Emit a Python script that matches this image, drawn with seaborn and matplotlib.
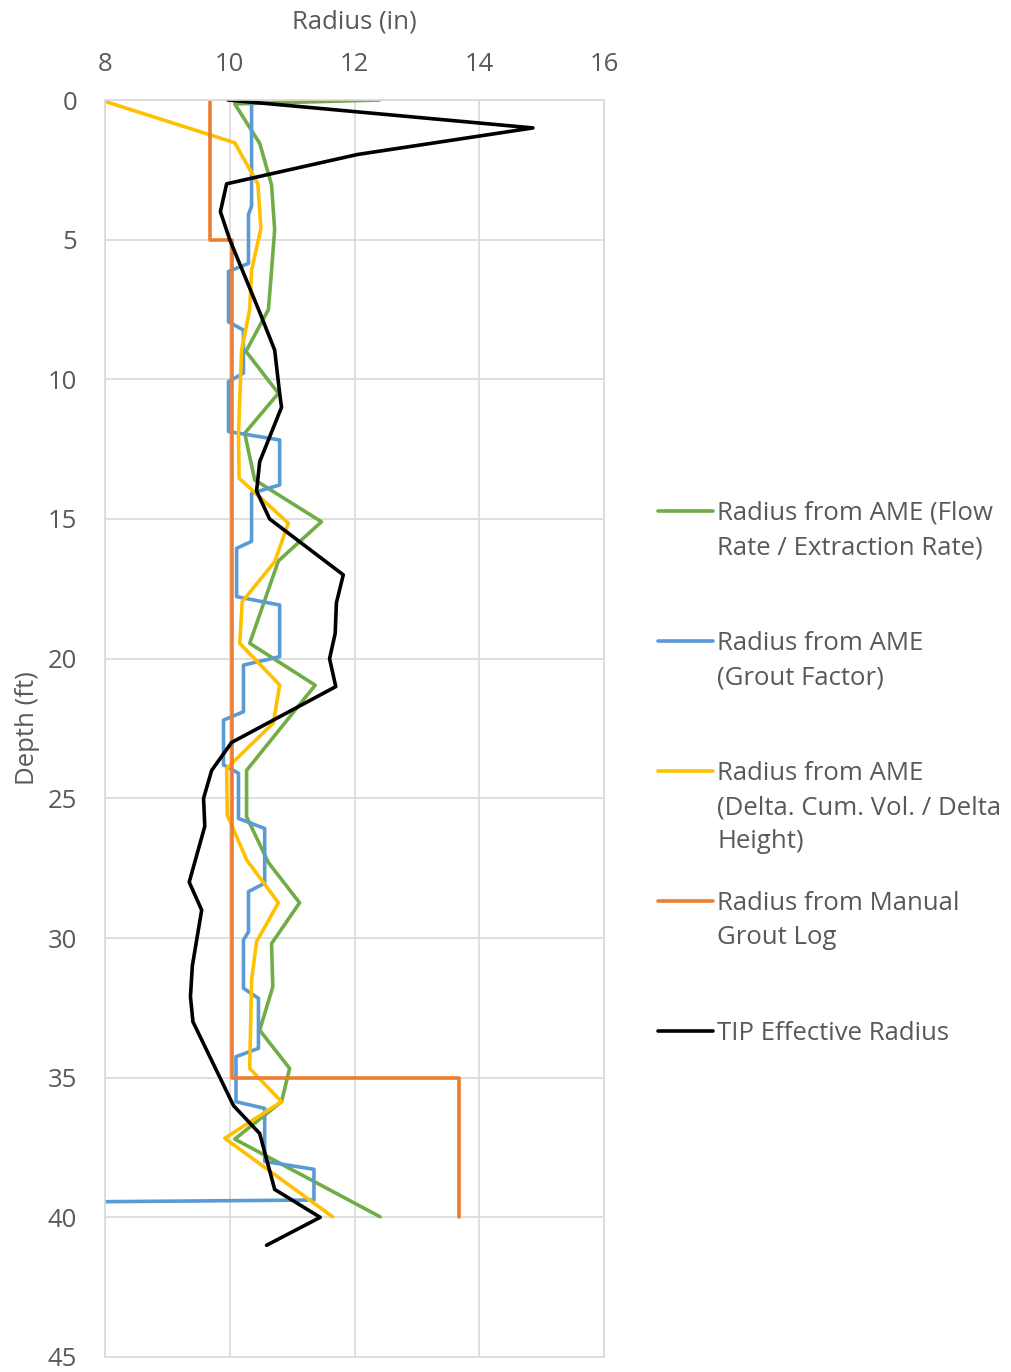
import seaborn as sns
import matplotlib.pyplot as plt
import pandas as pd

# series (radius in, depth ft)
green_depth = [0.0, 0.14, 1.55, 3.04, 4.65, 6.1, 7.5, 9.0, 10.5, 11.93, 13.6, 15.1, 16.5, 19.45,
               20.95, 24.0, 25.66, 27.3, 28.74, 30.2, 31.75, 33.3, 34.67, 35.86, 37.2, 39.98]
green_radius = [12.4, 10.08, 10.48, 10.67, 10.72, 10.67, 10.62, 10.26, 10.78, 10.24, 10.4, 11.47, 10.78, 10.32,
                11.37, 10.27, 10.27, 10.62, 11.12, 10.67, 10.69, 10.48, 10.96, 10.83, 10.08, 12.41]

blue_depth = [0.15, 3.8, 4.1, 5.85, 6.14, 7.94, 8.24, 9.78, 10.08, 11.87, 12.17, 13.78, 14.08, 15.8,
              16.05, 17.78, 18.08, 19.93, 20.23, 21.9, 22.2, 23.8, 24.1, 25.72, 26.08, 28.04, 28.34,
              29.78, 30.07, 31.8, 32.16, 33.95, 34.25, 35.86, 36.1, 38.0, 38.28, 39.38, 39.44]
blue_radius = [10.35, 10.35, 10.3, 10.3, 9.98, 9.98, 10.22, 10.22, 9.98, 9.98, 10.8, 10.8, 10.35, 10.35,
               10.11, 10.11, 10.8, 10.8, 10.22, 10.22, 9.9, 9.9, 10.14, 10.14, 10.56, 10.56, 10.3,
               10.3, 10.22, 10.22, 10.46, 10.46, 10.1, 10.1, 10.56, 10.56, 11.35, 11.35, 8.0]

yellow_depth = [0.05, 1.53, 3.0, 4.6, 6.09, 7.5, 8.95, 11.93, 13.54, 15.15, 16.53, 17.96, 19.45,
                20.94, 22.3, 23.93, 25.6, 27.2, 28.74, 30.13, 31.5, 34.67, 35.86, 37.17, 39.98]
yellow_radius = [8.0, 10.08, 10.45, 10.5, 10.35, 10.32, 10.19, 10.14, 10.15, 10.94, 10.72, 10.2, 10.16,
                 10.8, 10.7, 9.95, 9.96, 10.27, 10.78, 10.43, 10.35, 10.32, 10.83, 9.92, 11.65]

orange_depth = [0, 5, 5, 35, 35, 40]
orange_radius = [9.68, 9.68, 10.03, 10.03, 13.67, 13.67]

black_depth = [0, 1.0, 1.95, 3.0, 4.0, 5.0, 7.6, 8.95, 10.5, 11.0, 12.95, 14.0, 15.0, 16.0, 17.0,
               18.0, 19.1, 20.0, 21.0, 23.0, 24.0, 25.0, 26.0, 28.0, 29.0, 31.0, 32.1, 33.0, 36.0,
               37.0, 39.0, 40.0, 41.0]
black_radius = [9.97, 14.86, 12.05, 9.95, 9.85, 10.0, 10.48, 10.72, 10.8, 10.83, 10.48, 10.43, 10.64,
                11.23, 11.82, 11.71, 11.69, 11.6, 11.7, 10.03, 9.71, 9.58, 9.6, 9.35, 9.55, 9.4, 9.37,
                9.41, 10.06, 10.48, 10.72, 11.45, 10.59]

labels = ['Radius from AME (Flow\nRate / Extraction Rate)',
          'Radius from AME\n(Grout Factor)',
          'Radius from AME\n(Delta. Cum. Vol. / Delta\nHeight)',
          'Radius from Manual\nGrout Log',
          'TIP Effective Radius']
colors = ['#70AD47', '#5B9BD5', '#FFC000', '#ED7D31', '#000000']

series = [(green_radius, green_depth), (blue_radius, blue_depth), (yellow_radius, yellow_depth),
          (orange_radius, orange_depth), (black_radius, black_depth)]

sns.set_style('white')
plt.rcParams['font.family'] = ['Open Sans', 'DejaVu Sans']
txt = '#595959'
fs = 18.5

fig = plt.figure(figsize=(10.11, 13.72), dpi=100)
ax = fig.add_axes([105 / 1011, 15 / 1372, 499 / 1011, 1257 / 1372])

for (r, d), c in zip(series, colors):
    df = pd.DataFrame({'radius': r, 'depth': d})
    sns.lineplot(data=df, x='radius', y='depth', orient='y', sort=False, estimator=None,
                 color=c, linewidth=2.6, ax=ax)

ax.set_xlim(8, 16)
ax.set_ylim(45, 0)
ax.set_xticks([8, 10, 12, 14, 16])
ax.set_yticks(range(0, 46, 5))
ax.xaxis.tick_top()
ax.xaxis.set_label_position('top')
ax.tick_params(length=0, labelsize=fs, labelcolor=txt)
ax.tick_params(axis='x', pad=16.5)
ax.tick_params(axis='y', pad=20)
ax.set_xlabel('Radius (in)', fontsize=fs, color=txt, labelpad=17)
ax.set_ylabel('Depth (ft)', fontsize=fs, color=txt, labelpad=6)
ax.grid(True, color='#d9d9d9', linewidth=1.2)
for s in ax.spines.values():
    s.set_color('#d9d9d9')
    s.set_linewidth(1.2)

# legend, handle lined up with the first line of each label
H = 1372
for lab, c, ypx in zip(labels, colors, [511, 641, 771, 901, 1031]):
    y = 1 - ypx / H
    fig.add_artist(plt.Line2D([658 / 1011, 713 / 1011], [y, y], color=c, linewidth=2.6,
                              transform=fig.transFigure))
    fig.text(717 / 1011, 1 - (ypx - 10) / H, lab, fontsize=fs, color=txt, va='top',
             ha='left', linespacing=1.48)

plt.savefig('out.png', dpi=100)
